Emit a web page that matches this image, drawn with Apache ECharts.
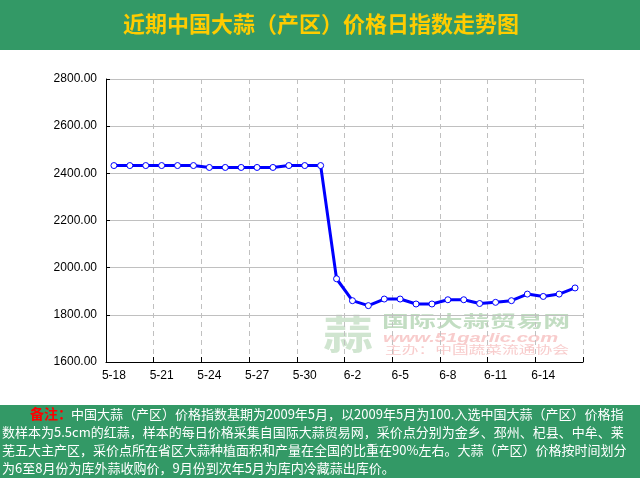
<!DOCTYPE html>
<html><head><meta charset="utf-8">
<script src="https://cdn.jsdelivr.net/npm/echarts@6/dist/echarts.min.js"></script>
<style>html,body{margin:0;padding:0;background:#fff}#c{width:642px;height:481px}</style>
</head><body><div id="c"></div>
<script>
const titleText = '近期中国大蒜（产区）价格日指数走势图';
const categories = ['5-18','5-19','5-20','5-21','5-22','5-23','5-24','5-25','5-26','5-27','5-28','5-29','5-30','5-31',
  '6-1','6-2','6-3','6-4','6-5','6-6','6-7','6-8','6-9','6-10','6-11','6-12','6-13','6-14','6-15','6-16'];
const indexValues = [2433,2433,2433,2433,2433,2433,2425,2425,2425,2425,2425,2433,2433,2433,
  1953,1860,1839,1867,1867,1846,1846,1864,1864,1848,1853,1860,1888,1878,1888,1914];
const yMin = 1600, yMax = 2800, yStep = 200;
const noteLabel = '备注：';
const noteLines = [
  '中国大蒜（产区）价格指数基期为2009年5月，以2009年5月为100.入选中国大蒜（产区）价格指',
  '数样本为5.5cm的红蒜，样本的每日价格采集自国际大蒜贸易网，采价点分别为金乡、邳州、杞县、中牟、莱',
  '芜五大主产区，采价点所在省区大蒜种植面积和产量在全国的比重在90%左右。大蒜（产区）价格按时间划分',
  '为6至8月份为库外蒜收购价，9月份到次年5月为库内冷藏蒜出库价。'
];
const watermark = ['蒜', '国际大蒜贸易网', 'www.51garlic.com', '主办：中国蔬菜流通协会'];

const green = '#339966';
const cjk = '"Noto Sans CJK SC", sans-serif';
const chart = echarts.init(document.getElementById('c'), null, {renderer: 'canvas'});

const graphics = [
  {type:'rect', shape:{x:0,y:0,width:640,height:50}, style:{fill:green}, z:-10, silent:true},
  {type:'text', x:321, y:24, style:{text:titleText, fill:'#ffcc00', font:'bold 22px ' + cjk, align:'center', verticalAlign:'middle'}, silent:true},
  {type:'rect', shape:{x:0,y:405,width:640,height:73}, style:{fill:green}, z:-10, silent:true},
  {type:'text', x:30, y:414, style:{text:noteLabel, fill:'#ff0000', font:'bold 14px ' + cjk, align:'left', verticalAlign:'middle'}, silent:true},
  {type:'text', x:71, y:414, style:{text:noteLines[0], fill:'#ffffff', font:'13px ' + cjk, align:'left', verticalAlign:'middle'}, silent:true},
  {type:'text', x:2, y:432, style:{text:noteLines[1], fill:'#ffffff', font:'13px ' + cjk, align:'left', verticalAlign:'middle'}, silent:true},
  {type:'text', x:2, y:450, style:{text:noteLines[2], fill:'#ffffff', font:'13px ' + cjk, align:'left', verticalAlign:'middle'}, silent:true},
  {type:'text', x:2, y:468, style:{text:noteLines[3], fill:'#ffffff', font:'13px ' + cjk, align:'left', verticalAlign:'middle'}, silent:true},
  // watermark
  {type:'text', x:348, y:334, scaleX:1.25, style:{text:watermark[0], fill:'#d0e5d0', font:'bold 40px ' + cjk, align:'center', verticalAlign:'middle'}, z:-5, silent:true},
  {type:'text', x:382, y:321, scaleX:1.68, style:{text:watermark[1], fill:'#c2ddc2', font:'bold 16px ' + cjk, align:'left', verticalAlign:'middle'}, z:-5, silent:true},
  {type:'text', x:383, y:338, scaleX:1.55, style:{text:watermark[2], fill:'#f8cccc', font:'italic bold 13px "Liberation Sans", Arial, sans-serif', align:'left', verticalAlign:'middle'}, z:-5, silent:true},
  {type:'text', x:385, y:350, scaleX:1.52, style:{text:watermark[3], fill:'#f8cccc', font:'11px ' + cjk, align:'left', verticalAlign:'middle'}, z:-5, silent:true}
];

chart.setOption({
  animation: false,
  backgroundColor: '#ffffff',
  grid: {left:106, top:79, width:477, height:283, containLabel:false},
  graphic: graphics,
  xAxis: {
    type:'category', data: categories, boundaryGap:true,
    axisLine:{show:true, lineStyle:{color:'#000', width:1}},
    axisTick:{show:true, inside:true, length:5, interval:2, lineStyle:{color:'#000'}},
    axisLabel:{interval:2, color:'#000', fontFamily:'"Liberation Sans", Arial, sans-serif', fontSize:12, margin:8},
    splitLine:{show:true, interval:2, lineStyle:{color:'#c0c0c0', type:[5,4], width:1}}
  },
  yAxis: {
    type:'value', min:yMin, max:yMax, interval:yStep,
    axisLine:{show:true, lineStyle:{color:'#000', width:1}},
    axisTick:{show:true, inside:true, length:4, lineStyle:{color:'#000'}},
    axisLabel:{color:'#000', fontFamily:'"Liberation Sans", Arial, sans-serif', fontSize:12, margin:9, formatter:v=>v.toFixed(2)},
    splitLine:{show:true, lineStyle:{color:'#c0c0c0', width:1}}
  },
  series: [{
    type:'line', data: indexValues,
    symbol:'circle', symbolSize:6, showSymbol:true,
    lineStyle:{color:'#0000ff', width:3},
    itemStyle:{color:'#ffffff', borderColor:'#0000ff', borderWidth:1},
    emphasis:{disabled:true}, z:5
  }]
});
</script>
</body></html>
